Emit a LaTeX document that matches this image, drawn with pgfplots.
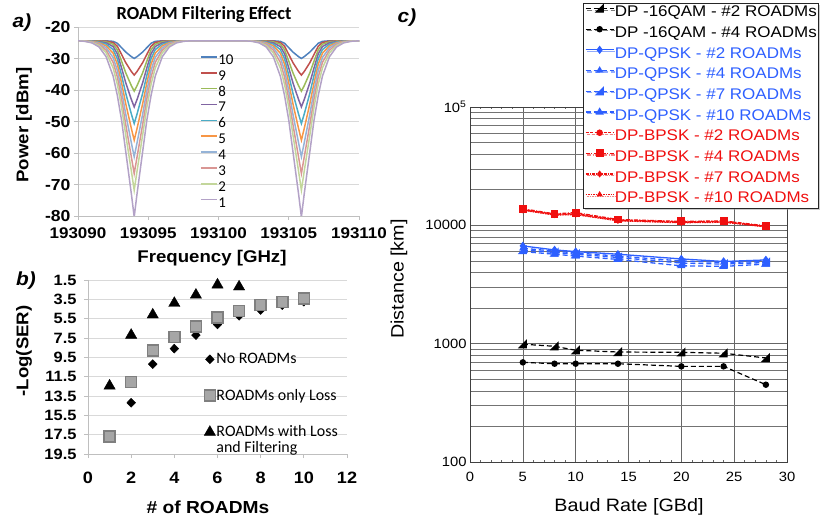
\documentclass[border=0pt]{standalone}
\usepackage{fontspec}
\setmainfont{Liberation Sans}[FakeStretch=1.1]
\newfontfamily\calfont{Carlito}
\usepackage{pgfplots}
\usepackage{pgfplotstable}
\pgfplotsset{compat=1.18}
\usetikzlibrary{shadows,plotmarks}

\definecolor{c10}{HTML}{4F81BD}
\definecolor{c9}{HTML}{C0504D}
\definecolor{c8}{HTML}{9BBB59}
\definecolor{c7}{HTML}{8064A2}
\definecolor{c6}{HTML}{4BACC6}
\definecolor{c5}{HTML}{F79646}
\definecolor{c4}{HTML}{95B3D7}
\definecolor{c3}{HTML}{D99694}
\definecolor{c2}{HTML}{C3D69B}
\definecolor{c1}{HTML}{B3A2C7}
\definecolor{gridc}{HTML}{D9D9D9}
\definecolor{axc}{HTML}{BFBFBF}
\definecolor{cblue}{RGB}{45,95,255}
\definecolor{cred}{RGB}{240,15,15}
\definecolor{sqfill}{HTML}{A6A6A6}
\definecolor{sqdraw}{HTML}{7F7F7F}

\pgfdeclareplotmark{lrtri}{%
  \pgfpathmoveto{\pgfqpoint{\pgfplotmarksize}{-\pgfplotmarksize}}%
  \pgfpathlineto{\pgfqpoint{\pgfplotmarksize}{\pgfplotmarksize}}%
  \pgfpathlineto{\pgfqpoint{-\pgfplotmarksize}{-\pgfplotmarksize}}%
  \pgfpathclose\pgfusepathqfillstroke}

% offset from 193090 GHz
\pgfplotstableread{
x y10 y9 y8 y7 y6 y5 y4 y3 y2 y1
0.0  -24.3 -24.3 -24.3 -24.3 -24.3 -24.3 -24.3 -24.3 -24.3 -24.3
0.5  -24.3 -24.3 -24.31 -24.32 -24.33 -24.35 -24.37 -24.4 -24.43 -24.47
1.0  -24.3 -24.31 -24.34 -24.38 -24.44 -24.51 -24.6 -24.69 -24.81 -24.97
1.5  -24.3 -24.34 -24.42 -24.55 -24.71 -24.91 -25.16 -25.45 -25.78 -26.26
2.0  -24.3 -24.41 -24.62 -24.93 -25.35 -25.88 -26.51 -27.25 -28.1 -29.34
2.5  -24.47 -24.83 -25.38 -26.12 -27.08 -28.23 -29.59 -31.14 -32.9 -35.5
2.8  -25.08 -26.03 -27.14 -28.43 -29.97 -31.71 -33.65 -35.79 -38.13 -41.66
3.1  -26.48 -28.62 -30.75 -32.91 -35.26 -37.68 -40.17 -42.73 -45.36 -49.5
3.4  -27.88 -31.26 -34.5 -37.67 -41.02 -44.35 -47.67 -50.98 -54.28 -59.58
3.6  -28.61 -32.67 -36.55 -40.33 -44.32 -48.28 -52.22 -56.14 -60.03 -66.3
3.8  -29.34 -34.07 -38.59 -42.99 -47.62 -52.21 -56.77 -61.3 -65.78 -73.02
4.0  -29.9 -35.2 -40.3 -45.3 -50.6 -55.9 -61.2 -66.5 -71.8 -80.3
4.2  -29.34 -34.07 -38.59 -42.99 -47.62 -52.21 -56.77 -61.3 -65.78 -73.02
4.4  -28.61 -32.67 -36.55 -40.33 -44.32 -48.28 -52.22 -56.14 -60.03 -66.3
4.6  -27.88 -31.26 -34.5 -37.67 -41.02 -44.35 -47.67 -50.98 -54.28 -59.58
4.9  -26.48 -28.62 -30.75 -32.91 -35.26 -37.68 -40.17 -42.73 -45.36 -49.5
5.2  -25.08 -26.03 -27.14 -28.43 -29.97 -31.71 -33.65 -35.79 -38.13 -41.66
5.5  -24.47 -24.83 -25.38 -26.12 -27.08 -28.23 -29.59 -31.14 -32.9 -35.5
6.0  -24.3 -24.41 -24.62 -24.93 -25.35 -25.88 -26.51 -27.25 -28.1 -29.34
6.5  -24.3 -24.34 -24.42 -24.55 -24.71 -24.91 -25.16 -25.45 -25.78 -26.26
7.0  -24.3 -24.31 -24.34 -24.38 -24.44 -24.51 -24.6 -24.69 -24.81 -24.97
7.5  -24.3 -24.3 -24.31 -24.32 -24.33 -24.35 -24.37 -24.4 -24.43 -24.47
8.0  -24.3 -24.3 -24.3 -24.3 -24.3 -24.3 -24.3 -24.3 -24.3 -24.3
11.9 -24.3 -24.3 -24.3 -24.3 -24.3 -24.3 -24.3 -24.3 -24.3 -24.3
12.4 -24.3 -24.3 -24.31 -24.32 -24.33 -24.35 -24.37 -24.4 -24.43 -24.47
12.9 -24.3 -24.31 -24.34 -24.38 -24.44 -24.51 -24.6 -24.69 -24.81 -24.97
13.4 -24.3 -24.34 -24.42 -24.55 -24.71 -24.91 -25.16 -25.45 -25.78 -26.26
13.9 -24.3 -24.41 -24.62 -24.93 -25.35 -25.88 -26.51 -27.25 -28.1 -29.34
14.4 -24.47 -24.83 -25.38 -26.12 -27.08 -28.23 -29.59 -31.14 -32.9 -35.5
14.7 -25.08 -26.03 -27.14 -28.43 -29.97 -31.71 -33.65 -35.79 -38.13 -41.66
15.0 -26.48 -28.62 -30.75 -32.91 -35.26 -37.68 -40.17 -42.73 -45.36 -49.5
15.3 -27.88 -31.26 -34.5 -37.67 -41.02 -44.35 -47.67 -50.98 -54.28 -59.58
15.5 -28.61 -32.67 -36.55 -40.33 -44.32 -48.28 -52.22 -56.14 -60.03 -66.3
15.7 -29.34 -34.07 -38.59 -42.99 -47.62 -52.21 -56.77 -61.3 -65.78 -73.02
15.9 -29.9 -35.2 -40.3 -45.3 -50.6 -55.9 -61.2 -66.5 -71.8 -80.3
16.1 -29.34 -34.07 -38.59 -42.99 -47.62 -52.21 -56.77 -61.3 -65.78 -73.02
16.3 -28.61 -32.67 -36.55 -40.33 -44.32 -48.28 -52.22 -56.14 -60.03 -66.3
16.5 -27.88 -31.26 -34.5 -37.67 -41.02 -44.35 -47.67 -50.98 -54.28 -59.58
16.8 -26.48 -28.62 -30.75 -32.91 -35.26 -37.68 -40.17 -42.73 -45.36 -49.5
17.1 -25.08 -26.03 -27.14 -28.43 -29.97 -31.71 -33.65 -35.79 -38.13 -41.66
17.4 -24.47 -24.83 -25.38 -26.12 -27.08 -28.23 -29.59 -31.14 -32.9 -35.5
17.9 -24.3 -24.41 -24.62 -24.93 -25.35 -25.88 -26.51 -27.25 -28.1 -29.34
18.4 -24.3 -24.34 -24.42 -24.55 -24.71 -24.91 -25.16 -25.45 -25.78 -26.26
18.9 -24.3 -24.31 -24.34 -24.38 -24.44 -24.51 -24.6 -24.69 -24.81 -24.97
19.4 -24.3 -24.3 -24.31 -24.32 -24.33 -24.35 -24.37 -24.4 -24.43 -24.47
20.0 -24.3 -24.3 -24.3 -24.3 -24.3 -24.3 -24.3 -24.3 -24.3 -24.3
}\roadm

\begin{document}
\begin{tikzpicture}
\useasboundingbox (0,0) rectangle (823bp,520bp);

% ---------------- panel a ----------------
\begin{axis}[at={(78bp,304bp)}, anchor=south west, scale only axis,
  width=281bp, height=188.7bp,
  xmin=0, xmax=20, ymin=-80, ymax=-20,
  xtick={0,5,10,15,20}, xticklabels={193090,193095,193100,193105,193110},
  ytick={-80,-70,-60,-50,-40,-30,-20}, yticklabels={-80,-70,-60,-50,-40,-30,-20},
  axis x line*=bottom, axis y line*=left,
  axis line style={axc, line width=0.8bp, -},
  tick style={axc, line width=0.8bp}, tick align=outside, major tick length=4bp,
  ymajorgrids, grid style={gridc, line width=0.8bp},
  yticklabel style={font=\bfseries\fontsize{16}{16}\selectfont},
  xticklabel style={font=\bfseries\fontsize{15.5}{15.5}\selectfont, yshift=-4bp},
  legend style={at={(0.434,0.86)}, anchor=north west, draw=none, fill=none,
    font=\calfont\fontsize{15}{15}\selectfont, row sep=1.86bp, inner sep=0pt,
    nodes={inner sep=0.5bp, text height=10bp, text depth=3bp}},
  legend cell align=left,
  legend image code/.code={\draw[#1, line width=1.6bp] (0bp,4bp) -- (16bp,4bp);},
  every axis plot/.append style={line width=1.5bp, no markers},
]
\addplot[c10] table[x=x, y=y10] {\roadm}; \addlegendentry{10}
\addplot[c9] table[x=x, y=y9] {\roadm}; \addlegendentry{9}
\addplot[c8] table[x=x, y=y8] {\roadm}; \addlegendentry{8}
\addplot[c7] table[x=x, y=y7] {\roadm}; \addlegendentry{7}
\addplot[c6] table[x=x, y=y6] {\roadm}; \addlegendentry{6}
\addplot[c5] table[x=x, y=y5] {\roadm}; \addlegendentry{5}
\addplot[c4] table[x=x, y=y4] {\roadm}; \addlegendentry{4}
\addplot[c3] table[x=x, y=y3] {\roadm}; \addlegendentry{3}
\addplot[c2] table[x=x, y=y2] {\roadm}; \addlegendentry{2}
\addplot[c1] table[x=x, y=y1] {\roadm}; \addlegendentry{1}
\end{axis}

% ---------------- panel b ----------------
\begin{axis}[at={(88bp,66bp)}, anchor=south west, scale only axis,
  width=259bp, height=174bp,
  xmin=0, xmax=12, ymin=1.5, ymax=19.5, y dir=reverse,
  xtick={0,2,4,6,8,10,12}, xticklabels={0,2,4,6,8,10,12},
  ytick={1.5,3.5,5.5,7.5,9.5,11.5,13.5,15.5,17.5,19.5},
  yticklabels={1.5,3.5,5.5,7.5,9.5,11.5,13.5,15.5,17.5,19.5},
  axis x line*=bottom, axis y line*=left,
  axis line style={axc, line width=0.8bp, -},
  tick style={axc, line width=0.8bp}, tick align=outside, major tick length=4bp,
  ymajorgrids, grid style={gridc, line width=0.8bp},
  xticklabel style={font=\bfseries\fontsize{16.5}{16.5}\selectfont, yshift=-11bp},
  yticklabel style={font=\bfseries\fontsize{15}{15}\selectfont, xshift=-4bp},
  clip=false,
  legend style={at={(0.448,0.585)}, anchor=north west, draw=none, fill=none,
    font=\calfont\fontsize{16}{16}\selectfont, row sep=22bp, inner sep=0pt,
    nodes={inner sep=1bp}},
  legend cell align=left,
]
\addplot[only marks, mark=diamond*, mark size=4.5bp, mark options={xscale=1.3}, black] coordinates {
  (2,14.2) (3,10.2) (4,8.6) (5,7.2) (6,6.1) (7,5.2) (8,4.6) (9,4.1) (10,3.74)};
\addlegendentry{No ROADMs}
\addplot[only marks, mark=square*, mark size=5.5bp, mark options={fill=sqfill, draw=sqdraw, line width=1.5bp}] coordinates {
  (1,17.7) (2,12.05) (3,8.8) (4,7.4) (5,6.3) (6,5.4) (7,4.7) (8,4.1) (9,3.8) (10,3.4)};
\addlegendentry{ROADMs only Loss}
\addplot[only marks, mark=triangle*, mark size=6.5bp, black] coordinates {
  (1,12.45) (2,7.2) (3,5.1) (4,3.9) (5,3.05) (6,2.0) (7,2.2)};
\addlegendentry{\begin{tabular}[t]{@{}l@{}}ROADMs with Loss\\and Filtering\end{tabular}}
\end{axis}

% ---------------- panel c ----------------
\begin{axis}[at={(470bp,58bp)}, anchor=south west, scale only axis,
  width=317bp, height=355bp,
  ymode=log, xmin=0, xmax=30, ymin=100, ymax=100000,
  xtick={0,5,10,15,20,25,30}, xticklabels={0,5,10,15,20,25,30},
  ytick={100,1000,10000,100000}, yticklabels={100,1000,10000,10\textsuperscript{5}},
  minor xtick={1,2,3,4,6,7,8,9,11,12,13,14,16,17,18,19,21,22,23,24,26,27,28,29},
  minor ytick={200,300,400,500,600,700,800,900,2000,3000,4000,5000,6000,7000,8000,9000,20000,30000,40000,50000,60000,70000,80000,90000},
  xmajorgrids, ymajorgrids, yminorgrids,
  major grid style={black!60, line width=0.6bp},
  minor grid style={black!55, line width=0.5bp},
  axis line style={black!75, line width=0.9bp},
  tick style={black!60, line width=0.5bp}, tick align=inside,
  major tick length=3bp, minor tick length=2bp,
  ticklabel style={font=\fontsize{13.5}{13.5}\selectfont},
  xticklabel style={yshift=-7bp},
  legend style={at={(0.356,1.293)}, anchor=north west, draw=black!85, line width=1.3bp, fill=white,
    drop shadow={shadow xshift=1.5bp, shadow yshift=-1.5bp, fill=black!40},
    font=\fontsize{15.5}{15.5}\selectfont, row sep=5.1bp, inner sep=1.5bp,
    nodes={inner sep=0.5bp, text height=11bp, text depth=3.5bp}},
  legend cell align=left,
  legend image code/.code={\draw[mark repeat=2, mark phase=2, #1] plot coordinates {(0bp,4.5bp) (14bp,4.5bp) (28bp,4.5bp)};},
]
\addplot[black, line width=1.2bp, dash pattern=on 5bp off 3bp, mark=lrtri, mark size=3.5bp, mark options={solid}] coordinates {
  (5,990) (8,950) (10,880) (14,850) (20,845) (24,830) (28,757)};
\addlegendentry{DP -16QAM - \#2 ROADMs}
\addplot[black, line width=1.2bp, dash pattern=on 5bp off 3bp, mark=*, mark size=2.6bp, mark options={solid}] coordinates {
  (5,695) (8,677) (10,677) (14,677) (20,643) (24,643) (28,450)};
\addlegendentry{DP -16QAM - \#4 ROADMs}
\addplot[cblue, line width=1.3bp, mark=diamond*, mark size=3.2bp] coordinates {
  (5,6700) (8,6200) (10,6000) (14,5700) (20,5200) (24,4950) (28,5100)};
\addlegendentry[text=cblue]{DP-QPSK - \#2 ROADMs}
\addplot[cblue, line width=1.3bp, dash pattern=on 5bp off 3bp, mark=triangle*, mark size=3bp, mark options={solid}] coordinates {
  (5,6400) (8,6050) (10,5850) (14,5500) (20,5000) (24,4850) (28,4950)};
\addlegendentry[text=cblue]{DP-QPSK - \#4 ROADMs}
\addplot[cblue, line width=1.3bp, dash pattern=on 5bp off 3bp, mark=lrtri, mark size=3.5bp, mark options={solid}] coordinates {
  (5,6200) (8,5900) (10,5700) (14,5350) (20,4800) (24,4700) (28,4850)};
\addlegendentry[text=cblue]{DP-QPSK - \#7 ROADMs}
\addplot[cblue, line width=1.3bp, dash pattern=on 5bp off 3bp, mark=triangle*, mark size=3.5bp, mark options={solid}] coordinates {
  (5,6000) (8,5700) (10,5500) (14,5150) (20,4550) (24,4500) (28,4700)};
\addlegendentry[text=cblue]{DP-QPSK - \#10 ROADMs}
\addplot[cred, line width=1.3bp, dash pattern=on 3bp off 1.5bp, mark=*, mark size=2.6bp, mark options={solid}] coordinates {
  (5,13600) (8,12400) (10,12600) (14,11100) (20,10700) (24,10800) (28,9800)};
\addlegendentry[text=cred]{DP-BPSK - \#2 ROADMs}
\addplot[cred, line width=1.3bp, dash pattern=on 4bp off 1.5bp on 1bp off 1.5bp, mark=square*, mark size=3.3bp, mark options={solid}] coordinates {
  (5,13800) (8,12500) (10,12800) (14,11200) (20,10800) (24,10900) (28,9900)};
\addlegendentry[text=cred]{DP-BPSK - \#4 ROADMs}
\addplot[cred, line width=1.3bp, dash pattern=on 3bp off 1bp on 1bp off 1bp, mark=diamond*, mark size=2.5bp, mark options={solid}] coordinates {
  (5,13500) (8,12300) (10,12400) (14,11000) (20,10600) (24,10700) (28,9750)};
\addlegendentry[text=cred]{DP-BPSK - \#7 ROADMs}
\addplot[cred, line width=1.1bp, dash pattern=on 1.5bp off 1bp, mark=triangle*, mark size=2.5bp, mark options={solid}] coordinates {
  (5,13400) (8,12200) (10,12300) (14,10900) (20,10500) (24,10600) (28,9700)};
\addlegendentry[text=cred]{DP-BPSK - \#10 ROADMs}
\end{axis}

% ---------------- texts ----------------
\node[font=\bfseries\itshape\fontsize{19}{19}\selectfont] at (22bp,497bp) {a)};
\node[font=\bfseries\itshape\fontsize{19}{19}\selectfont] at (26bp,239bp) {b)};
\node[font=\bfseries\itshape\fontsize{19}{19}\selectfont] at (407bp,502bp) {c)};
\node[font=\calfont\bfseries\fontsize{18.5}{18.5}\selectfont] at (204bp,505bp) {ROADM Filtering Effect};
\node[rotate=90, font=\bfseries\fontsize{17}{17}\selectfont] at (24bp,395bp) {Power [dBm]};
\node[font=\bfseries\fontsize{17}{17}\selectfont] at (212bp,262bp) {Frequency [GHz]};
\node[rotate=90, font=\bfseries\fontsize{17}{17}\selectfont] at (24bp,169bp) {-Log(SER)};
\node[font=\bfseries\fontsize{17.5}{17.5}\selectfont] at (208bp,13bp) {\# of ROADMs};
\node[rotate=90, font=\fontsize{18}{18}\selectfont] at (399bp,241bp) {Distance [km]};
\node[font=\fontsize{18}{18}\selectfont] at (629bp,13bp) {Baud Rate [GBd]};
\end{tikzpicture}
\end{document}
